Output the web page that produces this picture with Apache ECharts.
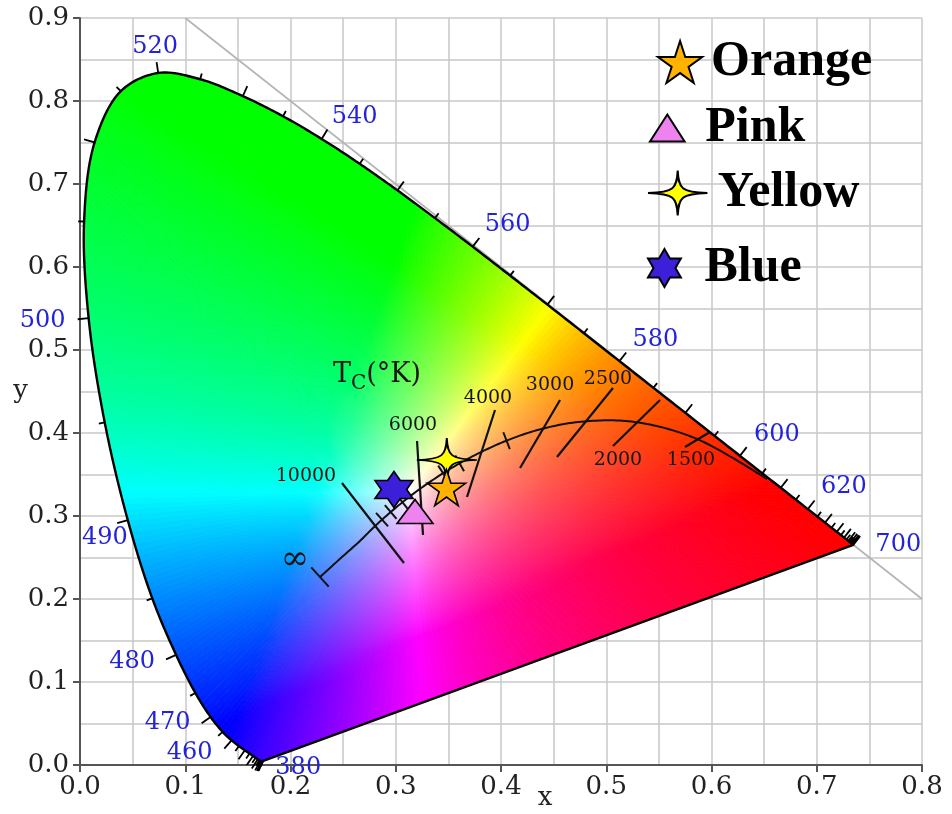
<!DOCTYPE html>
<html>
<head>
<meta charset="utf-8">
<script src="https://cdn.jsdelivr.net/npm/echarts@6.0.0/dist/echarts.min.js"></script>
<style>
html,body{margin:0;padding:0;background:#fff}
#main{width:952px;height:814px}
</style>
</head>
<body>
<div id="main"></div>
<script>
// spectral locus (CIE 1931 2 deg), 5 nm steps
var wavelengths = [380,385,390,395,400,405,410,415,420,425,430,435,440,445,450,455,460,465,470,475,
  480,485,490,495,500,505,510,515,520,525,530,535,540,545,550,555,560,565,570,575,580,585,590,595,
  600,605,610,615,620,625,630,635,640,645,650,655,660,665,670,675,680,685,690,695,700];
var locusX = [0.1741,0.1740,0.1738,0.1736,0.1733,0.1730,0.1726,0.1721,0.1714,0.1703,0.1689,0.1669,0.1644,0.1611,0.1566,0.1510,0.1440,0.1355,0.1241,0.1096,
  0.0913,0.0687,0.0454,0.0235,0.0082,0.0039,0.0139,0.0389,0.0743,0.1142,0.1547,0.1929,0.2296,0.2658,0.3016,0.3373,0.3731,0.4087,0.4441,0.4788,0.5125,0.5448,0.5752,0.6029,
  0.6270,0.6482,0.6658,0.6801,0.6915,0.7006,0.7079,0.7140,0.7190,0.7230,0.7260,0.7283,0.7300,0.7311,0.7320,0.7327,0.7334,0.7340,0.7344,0.7346,0.7347];
var locusY = [0.0050,0.0050,0.0049,0.0049,0.0048,0.0048,0.0048,0.0048,0.0051,0.0058,0.0069,0.0086,0.0109,0.0138,0.0177,0.0227,0.0297,0.0399,0.0578,0.0868,
  0.1327,0.2007,0.2950,0.4127,0.5384,0.6548,0.7502,0.8120,0.8338,0.8262,0.8059,0.7816,0.7543,0.7243,0.6923,0.6589,0.6245,0.5896,0.5547,0.5202,0.4866,0.4544,0.4242,0.3965,
  0.3725,0.3514,0.3340,0.3197,0.3083,0.2993,0.2920,0.2859,0.2809,0.2770,0.2740,0.2717,0.2700,0.2689,0.2680,0.2673,0.2666,0.2660,0.2656,0.2654,0.2653];
var labelWaves = [380,460,470,480,490,500,520,540,560,580,600,620,700];

// planckian locus
var planckTemps = [1000,1500,2000,2500,3000,3500,4000,4500,5000,6000,7000,8000,9000,10000,15000,20000,Infinity];
var planckX = [0.6528,0.5857,0.5269,0.4765,0.4366,0.4053,0.3805,0.3607,0.3450,0.3220,0.3064,0.2952,0.2870,0.2807,0.2637,0.2530,0.2280];
var planckY = [0.3444,0.3931,0.4133,0.4137,0.4042,0.3908,0.3767,0.3635,0.3516,0.3318,0.3166,0.3048,0.2956,0.2883,0.2672,0.2552,0.2265];
var minorTemps = [9000,8000,7000,5000,4500,3500];

// isotherm lines (upper end, lower end)
var isoLabels = ['10000','6000','4000','3000','2500','2000','1500'];
var isoX1 = [0.2489,0.3202,0.3943,0.4561,0.5064,0.5511,0.5986];
var isoY1 = [0.3398,0.3904,0.4277,0.4398,0.4542,0.4398,0.4012];
var isoX2 = [0.3078,0.3259,0.3677,0.4181,0.4532,0.5064,0.5748];
var isoY2 = [0.2434,0.2771,0.3229,0.3578,0.3711,0.3843,0.3831];

// x + y = 1 line
var diagX = [0.1, 0.8];
var diagY = [0.9, 0.2];

// samples
var sampleNames = ['Blue','Pink','Yellow','Orange'];
var sampleX = [0.2983,0.3183,0.3485,0.3482];
var sampleY = [0.3319,0.3054,0.3675,0.3343];

var whitePoint = [0.3127, 0.3290];

// label nudges in px
var waveLabelOffset = {380:[35,7],460:[-42,12],470:[-43,6],480:[-44,7],490:[-23,18],500:[-46,3],
  520:[-3,-26],540:[33,-22],560:[35,-22],580:[36,-21],600:[37,-21],620:[36,-22],700:[45,0]};
var isoLabelPos = {'10000':[0,-36,-7],'6000':[0,-4,-16],'4000':[0,-7,-12],'3000':[0,-10,-15],
  '2500':[0,-5,-9],'2000':[1,5,14],'1500':[1,6,13]};

var STAR5 = 'path://M50,0 L61.2,34.5 L97.6,34.5 L68.2,55.9 L79.4,90.5 L50,69.1 L20.6,90.5 L31.8,55.9 L2.4,34.5 L38.8,34.5 Z';
var STAR4 = 'path://M66,0 C68,40 74,48 132,50 C74,52 68,60 66,100 C64,60 58,52 0,50 C58,48 64,40 66,0 Z';
var HEX6 = 'path://M50,0 L64.43,25 L93.3,25 L78.87,50 L93.3,75 L64.43,75 L50,100 L35.57,75 L6.7,75 L21.13,50 L6.7,25 L35.57,25 Z';
var TRI = 'path://M50,0 L100,78 L0,78 Z';

function xyToRgb(x, y) {
  var X = x / y, Y = 1, Z = (1 - x - y) / y;
  var r = 3.2406 * X - 1.5372 * Y - 0.4986 * Z;
  var g = -0.9689 * X + 1.8758 * Y + 0.0415 * Z;
  var b = 0.0557 * X - 0.2040 * Y + 1.0570 * Z;
  r = Math.max(r, 0); g = Math.max(g, 0); b = Math.max(b, 0);
  var m = Math.max(r, g, b) || 1;
  // mild gamma, keeps the saturated look of the original
  var e = 1 / 1.25;
  return 'rgb(' + Math.round(255 * Math.pow(r / m, e)) + ',' + Math.round(255 * Math.pow(g / m, e)) + ',' + Math.round(255 * Math.pow(b / m, e)) + ')';
}

// centripetal catmull-rom between p1 and p2
function crPoint(p0, p1, p2, p3, u) {
  function tj(ti, a, b) { return ti + Math.max(Math.sqrt(Math.hypot(b[0] - a[0], b[1] - a[1])), 1e-3); }
  var t0 = 0, t1 = tj(t0, p0, p1), t2 = tj(t1, p1, p2), t3 = tj(t2, p2, p3);
  var t = t1 + (t2 - t1) * u;
  function lp(a, b, ta, tb) { var w = (t - ta) / (tb - ta); return [a[0] + (b[0] - a[0]) * w, a[1] + (b[1] - a[1]) * w]; }
  var A1 = lp(p0, p1, t0, t1), A2 = lp(p1, p2, t1, t2), A3 = lp(p2, p3, t2, t3);
  var B1 = lp(A1, A2, t0, t2), B2 = lp(A2, A3, t1, t3);
  return lp(B1, B2, t1, t2);
}
function smoothPath(P, step) {
  var out = [P[0]];
  for (var i = 0; i < P.length - 1; i++) {
    var p0 = P[i - 1] || P[i], p1 = P[i], p2 = P[i + 1], p3 = P[i + 2] || P[i + 1];
    var n = Math.max(1, Math.ceil(Math.hypot(p2[0] - p1[0], p2[1] - p1[1]) / step));
    for (var k = 1; k <= n; k++) out.push(crPoint(p0, p1, p2, p3, k / n));
  }
  return out;
}
function locusPx(api) {
  return wavelengths.map(function (w, i) { return api.coord([locusX[i], locusY[i]]); });
}
function planckPx(api) {
  return planckTemps.map(function (t, i) { return api.coord([planckX[i], planckY[i]]); });
}

// colour fill: fan of wedges from the white point, each with a radial gradient
function renderGamut(params, api) {
  var spec = smoothPath(locusPx(api), 6);
  var a = spec[spec.length - 1], b = spec[0];
  var m = Math.ceil(Math.hypot(b[0] - a[0], b[1] - a[1]) / 8);
  var loop = spec.slice();
  for (var k = 1; k < m; k++) loop.push([a[0] + (b[0] - a[0]) * k / m, a[1] + (b[1] - a[1]) * k / m]);
  loop.push(b);
  var o = api.coord([0, 0]), u = api.coord([1, 1]);
  var wp = api.coord(whitePoint);
  var children = [];
  for (var i = 0; i < loop.length - 1; i++) {
    var p = loop[i], q = loop[i + 1];
    var mx = (p[0] + q[0]) / 2, my = (p[1] + q[1]) / 2;
    var r = Math.hypot(mx - wp[0], my - wp[1]);
    if (r < 1) continue;
    var stops = [];
    for (var s = 0; s <= 16; s++) {
      var t = s / 16;
      var px = wp[0] + (mx - wp[0]) * t, py = wp[1] + (my - wp[1]) * t;
      stops.push({ offset: t, color: xyToRgb((px - o[0]) / (u[0] - o[0]), (py - o[1]) / (u[1] - o[1])) });
    }
    var grad = new echarts.graphic.RadialGradient(wp[0], wp[1], r, stops, true);
    children.push({ type: 'polygon', silent: true, shape: { points: [wp, p, q] }, style: { fill: grad, stroke: grad, lineWidth: 1 } });
  }
  return { type: 'group', children: children };
}

// outline, wavelength ticks and labels
function renderLocus(params, api) {
  var P = locusPx(api);
  var spec = smoothPath(P, 3);
  var ch = [{ type: 'polygon', silent: true, shape: { points: spec }, style: { fill: 'none', stroke: '#000', lineWidth: 2.4, lineJoin: 'round' } }];
  var n = P.length;
  for (var i = 0; i < n; i++) {
    var lo = i, hi = i;
    while (Math.hypot(P[hi][0] - P[lo][0], P[hi][1] - P[lo][1]) < 10 && (lo > 0 || hi < n - 1)) {
      if (lo > 0) lo--;
      if (hi < n - 1) hi++;
    }
    var dx = P[hi][0] - P[lo][0], dy = P[hi][1] - P[lo][1], L = Math.hypot(dx, dy) || 1;
    var nx = dy / L, ny = -dx / L;
    var len = wavelengths[i] % 10 === 0 ? 11 : 6;
    ch.push({ type: 'line', silent: true, shape: { x1: P[i][0], y1: P[i][1], x2: P[i][0] + nx * len, y2: P[i][1] + ny * len },
      style: { stroke: '#000', lineWidth: 1.8 } });
  }
  labelWaves.forEach(function (w) {
    var i = wavelengths.indexOf(w), off = waveLabelOffset[w];
    ch.push({ type: 'text', silent: true, x: P[i][0] + off[0], y: P[i][1] + off[1],
      style: { text: String(w), fill: '#2323d8', fontFamily: 'DejaVu Serif', fontSize: 24, align: 'center', verticalAlign: 'middle' } });
  });
  return { type: 'group', children: ch };
}

function renderPlanck(params, api) {
  return { type: 'polyline', silent: true, shape: { points: smoothPath(planckPx(api), 3) },
    style: { fill: 'none', stroke: '#111', lineWidth: 2 } };
}

function renderIso(params, api) {
  var a = api.coord([api.value(0), api.value(1)]), b = api.coord([api.value(2), api.value(3)]);
  var lab = isoLabels[params.dataIndex], pos = isoLabelPos[lab];
  var anchor = pos[0] === 0 ? a : b;
  return { type: 'group', children: [
    { type: 'line', silent: true, shape: { x1: a[0], y1: a[1], x2: b[0], y2: b[1] }, style: { stroke: '#111', lineWidth: 2.2 } },
    { type: 'text', silent: true, x: anchor[0] + pos[1], y: anchor[1] + pos[2],
      style: { text: lab, fill: '#151515', fontFamily: 'DejaVu Serif', fontSize: 19, align: 'center', verticalAlign: 'middle' } }
  ] };
}

function renderPlanckMarks(params, api) {
  var P = planckPx(api);
  var ch = [];
  function bar(i, half) {
    var a = P[Math.max(i - 1, 0)], b = P[Math.min(i + 1, P.length - 1)];
    var dx = b[0] - a[0], dy = b[1] - a[1], L = Math.hypot(dx, dy) || 1;
    var nx = -dy / L * half, ny = dx / L * half;
    ch.push({ type: 'line', silent: true, shape: { x1: P[i][0] - nx, y1: P[i][1] - ny, x2: P[i][0] + nx, y2: P[i][1] + ny },
      style: { stroke: '#111', lineWidth: 2 } });
  }
  minorTemps.forEach(function (t) { bar(planckTemps.indexOf(t), 9); });
  var last = P.length - 1;
  bar(last, 13);
  ch.push({ type: 'text', silent: true, x: P[last][0] - 25, y: P[last][1] - 17,
    style: { text: '\u221e', fill: '#151515', fontFamily: 'DejaVu Serif', fontSize: 34, align: 'center', verticalAlign: 'middle' } });
  return { type: 'group', children: ch };
}

var chart = echarts.init(document.getElementById('main'));

var gridLine = { lineStyle: { color: '#c8c8c8', width: 1.5 } };
var tickFont = { fontFamily: 'DejaVu Serif', fontSize: 26, color: '#222' };

var samplesStyle = {
  Orange: { symbol: STAR5, size: [38, 36], color: '#ffb300' },
  Pink: { symbol: TRI, size: [36, 24], color: '#ee82ee' },
  Yellow: { symbol: STAR4, size: [60, 44], color: '#ffff00' },
  Blue: { symbol: HEX6, size: [38, 36], color: '#3b1fd9' }
};

var series = [
  { type: 'line', name: 'diag', z: 1, silent: true, symbol: 'none',
    data: diagX.map(function (x, i) { return [x, diagY[i]]; }),
    lineStyle: { color: '#b4b4b4', width: 1.6 } },
  { type: 'custom', name: 'gamut', z: 2, silent: true, renderItem: renderGamut, data: [whitePoint] },
  { type: 'custom', name: 'locus', z: 3, silent: true, renderItem: renderLocus, data: [whitePoint] },
  { type: 'custom', name: 'planck', z: 4, silent: true, renderItem: renderPlanck, data: [whitePoint] },
  { type: 'custom', name: 'iso', z: 4, silent: true, renderItem: renderIso, encode: { x: [0, 2], y: [1, 3] },
    data: isoLabels.map(function (l, i) { return [isoX1[i], isoY1[i], isoX2[i], isoY2[i]]; }) },
  { type: 'custom', name: 'planckMarks', z: 4, silent: true, renderItem: renderPlanckMarks, data: [whitePoint] }
];
sampleNames.forEach(function (name, i) {
  var st = samplesStyle[name];
  series.push({ type: 'scatter', name: name, z: 10 + i, symbol: st.symbol, symbolSize: st.size, symbolKeepAspect: false,
    data: [[sampleX[i], sampleY[i]]],
    itemStyle: { color: st.color, borderColor: '#000', borderWidth: 1.6, opacity: 1 } });
});

function legendFor(name, left, top, w, h) {
  return { data: [name], left: left, top: top, itemWidth: w, itemHeight: h, itemGap: 0, padding: 0,
    selectedMode: false, symbolKeepAspect: true,
    textStyle: { fontFamily: 'Liberation Serif', fontWeight: 'bold', fontSize: 50, lineHeight: 52, color: '#000' } };
}

var option = {
  animation: false,
  backgroundColor: '#fff',
  grid: { left: 80, right: 30, top: 18, bottom: 49, containLabel: false, outerBoundsMode: 'none' },
  xAxis: {
    type: 'value', min: 0, max: 0.8, interval: 0.1,
    name: 'x', nameLocation: 'middle', nameGap: 20, nameMoveOverlap: false,
    nameTextStyle: { fontFamily: 'DejaVu Serif', fontSize: 26, color: '#222', padding: [0, 0, 0, 88] },
    axisLine: { show: true, onZero: false, lineStyle: { color: '#555', width: 2 } },
    axisTick: { show: true, length: 7, lineStyle: { color: '#555', width: 2 } },
    axisLabel: Object.assign({ margin: 9, formatter: function (v) { return v.toFixed(1); } }, tickFont),
    splitLine: Object.assign({ show: true }, gridLine),
    minorTick: { show: false, splitNumber: 2 },
    minorSplitLine: Object.assign({ show: true }, gridLine)
  },
  yAxis: {
    type: 'value', min: 0, max: 0.9, interval: 0.1,
    name: 'y', nameLocation: 'middle', nameGap: 52, nameRotate: 0, nameMoveOverlap: false,
    nameTextStyle: { fontFamily: 'DejaVu Serif', fontSize: 26, color: '#222' },
    axisLine: { show: true, onZero: false, lineStyle: { color: '#555', width: 2 } },
    axisTick: { show: true, length: 7, lineStyle: { color: '#555', width: 2 } },
    axisLabel: Object.assign({ margin: 11, formatter: function (v) { return v.toFixed(1); } }, tickFont),
    splitLine: Object.assign({ show: true }, gridLine),
    minorTick: { show: false, splitNumber: 2 },
    minorSplitLine: Object.assign({ show: true }, gridLine)
  },
  legend: [
    legendFor('Orange', 657, 36, 52, 42),
    legendFor('Pink', 649, 102, 66, 27),
    legendFor('Yellow', 647, 167, 70, 45),
    legendFor('Blue', 647, 242, 70, 38)
  ],
  graphic: [{
    type: 'text', left: 333, top: 361, z: 20, silent: true,
    style: {
      text: '{a|T}{b|C}{a|(°K)}',
      rich: {
        a: { fontFamily: 'DejaVu Serif', fontSize: 27, lineHeight: 30, verticalAlign: 'top', fill: '#151515' },
        b: { fontFamily: 'DejaVu Serif', fontSize: 20, lineHeight: 22, verticalAlign: 'top', padding: [13, 0, 0, 0], fill: '#151515' }
      }
    }
  }],
  series: series
};
chart.setOption(option);
</script>
</body>
</html>
